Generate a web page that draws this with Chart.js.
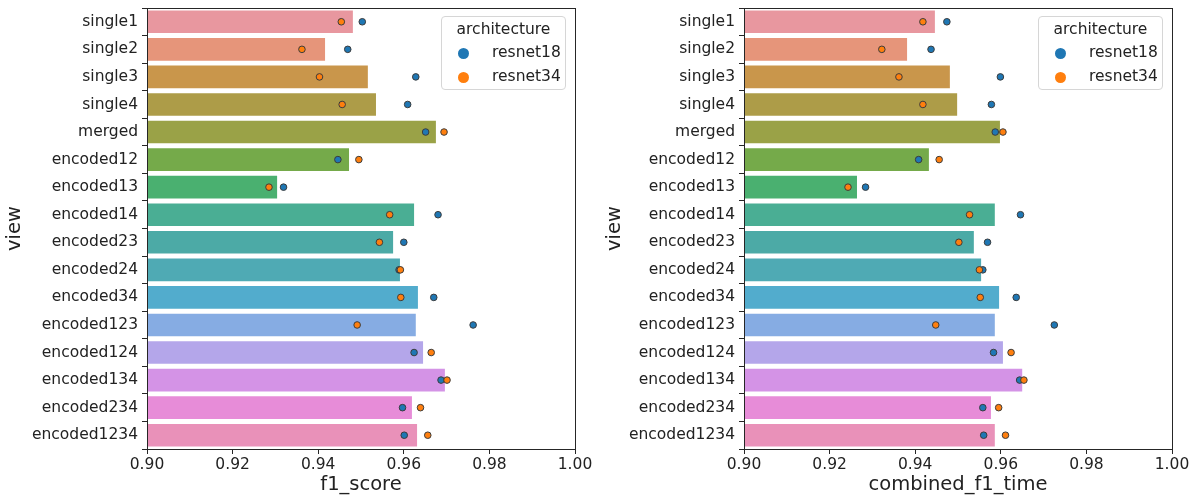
<!DOCTYPE html>
<html>
<head>
<meta charset="utf-8">
<script src="https://cdn.jsdelivr.net/npm/chart.js@4.4.0/dist/chart.umd.min.js"></script>
<style>
  body { margin: 0; background: #fff; width: 1200px; height: 497px; overflow: hidden; font-family: "DejaVu Sans", sans-serif; }
  .panel { position: absolute; top: 0; width: 600px; height: 497px; }
  .leyenda { position: absolute; top: 16px; width: 125px; height: 74px; box-sizing: border-box;
    border: 1px solid #d6d6d6; border-radius: 4px; background: rgba(255,255,255,0.8);
    font-size: 15.5px; color: #222; }
  .leyenda .titulo { position: absolute; top: 3px; width: 100%; text-align: center; }
  .leyenda .fila { position: absolute; left: 0; width: 100%; height: 20px; }
  .leyenda .punto { position: absolute; left: 16px; top: 5px; width: 11px; height: 11px; border-radius: 50%; }
  .leyenda .texto { position: absolute; left: 50px; top: 0; }
</style>
</head>
<body>
<div class="panel" style="left:0"><canvas id="graficoF1" width="600" height="497"></canvas></div>
<div class="panel" style="left:600px"><canvas id="graficoCombinado" width="600" height="497"></canvas></div>
<div class="leyenda" style="left:441px">
  <div class="titulo">architecture</div>
  <div class="fila" style="top:26px"><span class="punto" style="background:#1f77b4"></span><span class="texto">resnet18</span></div>
  <div class="fila" style="top:50px"><span class="punto" style="background:#ff7f0e"></span><span class="texto">resnet34</span></div>
</div>
<div class="leyenda" style="left:1038px">
  <div class="titulo">architecture</div>
  <div class="fila" style="top:26px"><span class="punto" style="background:#1f77b4"></span><span class="texto">resnet18</span></div>
  <div class="fila" style="top:50px"><span class="punto" style="background:#ff7f0e"></span><span class="texto">resnet34</span></div>
</div>
<script>
const vistas = ['single1', 'single2', 'single3', 'single4', 'merged', 'encoded12', 'encoded13', 'encoded14',
    'encoded23', 'encoded24', 'encoded34', 'encoded123', 'encoded124', 'encoded134', 'encoded234', 'encoded1234'];

const coloresVistas = ['#e8979f', '#e6957a', '#c9964b', '#ad9c48', '#9aa247', '#75aa4a', '#4ab070', '#4aae94',
    '#4caaa6', '#4faab4', '#52accd', '#86ace3', '#b4a6ea', '#d493e6', '#e78cd8', '#e991b9'];

// f1_score
const f1Media = [0.9481, 0.9416, 0.9516, 0.9535, 0.9675, 0.9472, 0.9304, 0.9624,
    0.9575, 0.9591, 0.9633, 0.9628, 0.9645, 0.9696, 0.9619, 0.9631];
const f1Resnet18 = [0.9503, 0.9469, 0.9628, 0.9609, 0.9651, 0.9446, 0.9319, 0.9680,
    0.9600, 0.9589, 0.9670, 0.9762, 0.9624, 0.9687, 0.9597, 0.9601];
const f1Resnet34 = [0.9454, 0.9362, 0.9403, 0.9456, 0.9694, 0.9495, 0.9285, 0.9567,
    0.9543, 0.9592, 0.9593, 0.9491, 0.9664, 0.9701, 0.9639, 0.9656];

// combined_f1_time
const combMedia = [0.9446, 0.9381, 0.9481, 0.9498, 0.9598, 0.9432, 0.9264, 0.9586,
    0.9537, 0.9554, 0.9596, 0.9586, 0.9605, 0.9650, 0.9577, 0.9586];
const combResnet18 = [0.9474, 0.9437, 0.9599, 0.9578, 0.9587, 0.9408, 0.9284, 0.9646,
    0.9569, 0.9558, 0.9636, 0.9725, 0.9583, 0.9644, 0.9558, 0.9560];
const combResnet34 = [0.9418, 0.9322, 0.9362, 0.9418, 0.9605, 0.9456, 0.9243, 0.9527,
    0.9502, 0.9550, 0.9552, 0.9448, 0.9624, 0.9654, 0.9595, 0.9611];

const ticksX = [0.90, 0.92, 0.94, 0.96, 0.98, 1.00];

const marcoPlugin = {
    id: 'marco',
    afterDraw(chart) {
        const { ctx, chartArea } = chart;
        ctx.save();
        ctx.strokeStyle = '#262626';
        ctx.lineWidth = 1;
        ctx.strokeRect(Math.round(chartArea.left) + 0.5, Math.round(chartArea.top) + 0.5,
            Math.round(chartArea.right - chartArea.left), Math.round(chartArea.bottom - chartArea.top));
        ctx.restore();
    }
};

function crearGrafico(idChart, tituloX, media, r18, r34, anchoEje, margenDerecho) {
    let elementoDOM = document.getElementById(idChart).getContext('2d');
    let puntos = (data, color, orden) => ({
        type: 'line',
        data: data,
        showLine: false,
        backgroundColor: color,
        borderColor: '#3c3c3c',
        pointBackgroundColor: color,
        pointBorderColor: '#3c3c3c',
        pointBorderWidth: 1,
        pointRadius: 3.3,
        order: orden
    });
    new Chart(elementoDOM, {
        type: 'bar',
        data: {
            labels: vistas,
            datasets: [
                {
                    data: media,
                    backgroundColor: coloresVistas,
                    borderWidth: 0,
                    barPercentage: 0.82,
                    categoryPercentage: 1,
                    order: 3
                },
                puntos(r18, '#1f77b4', 2),
                puntos(r34, '#ff7f0e', 1)
            ]
        },
        options: {
            indexAxis: 'y',
            animation: false,
            responsive: false,
            events: [],
            layout: { padding: { top: 8, right: margenDerecho, left: 0, bottom: 0 } },
            plugins: { legend: { display: false }, tooltip: { enabled: false } },
            scales: {
                x: {
                    type: 'linear',
                    min: 0.9,
                    max: 1.0,
                    afterBuildTicks: (eje) => { eje.ticks = ticksX.map(v => ({ value: v })); },
                    afterFit: (eje) => { eje.height = 48; eje.paddingLeft = 0; eje.paddingRight = 0; },
                    grid: { drawOnChartArea: false, drawTicks: true, tickLength: 5, tickColor: '#262626' },
                    border: { display: false },
                    ticks: {
                        color: '#222',
                        font: { family: 'DejaVu Sans', size: 15.5 },
                        padding: 2,
                        maxRotation: 0,
                        callback: (v) => Number(v).toFixed(2)
                    },
                    title: {
                        display: true,
                        text: tituloX,
                        color: '#222',
                        font: { family: 'DejaVu Sans', size: 19.5 },
                        padding: { top: 0, bottom: 0 }
                    }
                },
                y: {
                    type: 'category',
                    afterFit: (eje) => { eje.width = anchoEje; eje.paddingTop = 0; eje.paddingBottom = 0; },
                    grid: { drawOnChartArea: false, drawTicks: true, tickLength: 5, tickColor: '#262626' },
                    border: { display: false },
                    ticks: {
                        color: '#222',
                        font: { family: 'DejaVu Sans', size: 15.5 },
                        padding: 4,
                        autoSkip: false
                    },
                    title: {
                        display: true,
                        text: 'view',
                        color: '#222',
                        font: { family: 'DejaVu Sans', size: 19.5 },
                        padding: { top: 3, bottom: 0 }
                    }
                }
            }
        },
        plugins: [marcoPlugin]
    });
}

crearGrafico('graficoF1', 'f1_score', f1Media, f1Resnet18, f1Resnet34, 147, 25);
crearGrafico('graficoCombinado', 'combined_f1_time', combMedia, combResnet18, combResnet34, 144, 28);
</script>
</body>
</html>
